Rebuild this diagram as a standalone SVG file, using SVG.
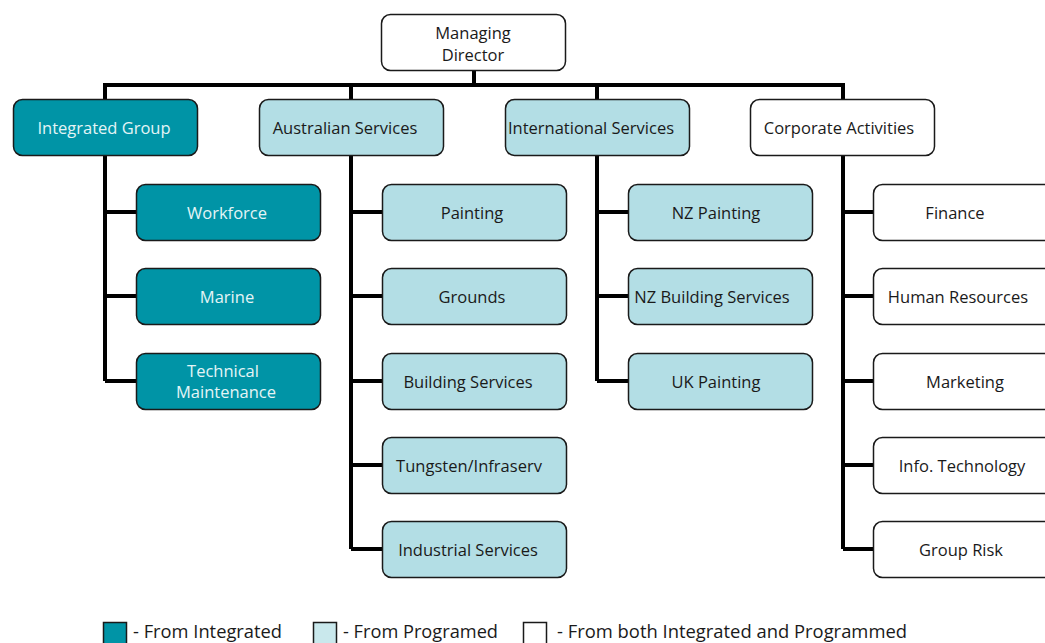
<svg xmlns="http://www.w3.org/2000/svg" width="1045" height="643" viewBox="0 0 1045 643">
  <style>
    .box { stroke: #1a1a1a; stroke-width: 1.5; }
    .teal { fill: #0094a6; }
    .light { fill: #b3dee5; }
    .white { fill: #ffffff; }
    text { font-family: "Open Sans", "Noto Sans", sans-serif; font-size: 16.5px; text-anchor: middle; }
    .dark { fill: #1a1a1a; }
    .pale { fill: #e4f4f6; }
    .wire { stroke: #000; stroke-width: 4; fill: none; }
    .legend { font-size: 18px; text-anchor: start; fill: #1a1a1a; }
  </style>
  <rect width="1045" height="643" fill="#ffffff"/>

  <!-- connectors -->
  <g id="connectors" class="wire">
    <path d="M474 71V85M103 85H845M105 83V99M351 85V99M597 85V99M843 83V99"/>
    <path d="M105 155V381M105 212H136M105 296H136M105 381H136"/>
    <path d="M351 155V549M351 212H382M351 296H382M351 381H382M351 465H382M351 549H382"/>
    <path d="M597 155V381M597 212H628M597 296H628M597 381H628"/>
    <path d="M843 155V549M843 212H873M843 296H873M843 381H873M843 465H873M843 549H873"/>
  </g>

  <!-- top -->
  <g id="managing-director">
    <rect class="box white" x="381.5" y="14.5" width="184" height="56" rx="9"/>
    <text class="dark" x="473" y="39">Managing</text>
    <text class="dark" x="473" y="61">Director</text>
  </g>

  <!-- divisions -->
  <g id="integrated-group">
    <rect class="box teal" x="13.5" y="99.5" width="184" height="56" rx="9"/>
    <text class="pale" x="104" y="134">Integrated Group</text>
  </g>
  <g id="australian-services">
    <rect class="box light" x="259.5" y="99.5" width="184" height="56" rx="9"/>
    <text class="dark" x="345" y="134">Australian Services</text>
  </g>
  <g id="international-services">
    <rect class="box light" x="505.5" y="99.5" width="184" height="56" rx="9"/>
    <text class="dark" x="591" y="134">International Services</text>
  </g>
  <g id="corporate-activities">
    <rect class="box white" x="750.5" y="99.5" width="184" height="56" rx="9"/>
    <text class="dark" x="839" y="134">Corporate Activities</text>
  </g>

  <!-- Integrated Group units -->
  <g id="workforce">
    <rect class="box teal" x="136.5" y="184.5" width="184" height="56" rx="9"/>
    <text class="pale" x="227" y="219">Workforce</text>
  </g>
  <g id="marine">
    <rect class="box teal" x="136.5" y="268.5" width="184" height="56" rx="9"/>
    <text class="pale" x="227" y="303">Marine</text>
  </g>
  <g id="technical-maintenance">
    <rect class="box teal" x="136.5" y="353.5" width="184" height="56" rx="9"/>
    <text class="pale" x="223" y="377">Technical</text>
    <text class="pale" x="226" y="398">Maintenance</text>
  </g>

  <!-- Australian Services units -->
  <g id="painting">
    <rect class="box light" x="382.5" y="184.5" width="184" height="56" rx="9"/>
    <text class="dark" x="472" y="219">Painting</text>
  </g>
  <g id="grounds">
    <rect class="box light" x="382.5" y="268.5" width="184" height="56" rx="9"/>
    <text class="dark" x="472" y="303">Grounds</text>
  </g>
  <g id="building-services">
    <rect class="box light" x="382.5" y="353.5" width="184" height="56" rx="9"/>
    <text class="dark" x="468" y="388">Building Services</text>
  </g>
  <g id="tungsten-infraserv">
    <rect class="box light" x="382.5" y="437.5" width="184" height="56" rx="9"/>
    <text class="dark" x="469" y="472">Tungsten/Infraserv</text>
  </g>
  <g id="industrial-services">
    <rect class="box light" x="382.5" y="521.5" width="184" height="56" rx="9"/>
    <text class="dark" x="468" y="556">Industrial Services</text>
  </g>

  <!-- International Services units -->
  <g id="nz-painting">
    <rect class="box light" x="628.5" y="184.5" width="184" height="56" rx="9"/>
    <text class="dark" x="716" y="219">NZ Painting</text>
  </g>
  <g id="nz-building-services">
    <rect class="box light" x="628.5" y="268.5" width="184" height="56" rx="9"/>
    <text class="dark" x="712" y="303">NZ Building Services</text>
  </g>
  <g id="uk-painting">
    <rect class="box light" x="628.5" y="353.5" width="184" height="56" rx="9"/>
    <text class="dark" x="716" y="388">UK Painting</text>
  </g>

  <!-- Corporate Activities units -->
  <g id="finance">
    <rect class="box white" x="873.5" y="184.5" width="184" height="56" rx="9"/>
    <text class="dark" x="955" y="219">Finance</text>
  </g>
  <g id="human-resources">
    <rect class="box white" x="873.5" y="268.5" width="184" height="56" rx="9"/>
    <text class="dark" x="958" y="303">Human Resources</text>
  </g>
  <g id="marketing">
    <rect class="box white" x="873.5" y="353.5" width="184" height="56" rx="9"/>
    <text class="dark" x="965" y="388">Marketing</text>
  </g>
  <g id="info-technology">
    <rect class="box white" x="873.5" y="437.5" width="184" height="56" rx="9"/>
    <text class="dark" x="962" y="472">Info. Technology</text>
  </g>
  <g id="group-risk">
    <rect class="box white" x="873.5" y="521.5" width="184" height="56" rx="9"/>
    <text class="dark" x="961" y="556">Group Risk</text>
  </g>

  <!-- key -->
  <g id="legend">
    <rect class="box teal" x="103.5" y="622.5" width="23" height="30"/>
    <text class="legend" x="133" y="637.5" textLength="149" lengthAdjust="spacingAndGlyphs">- From Integrated</text>
    <rect class="box" fill="#c9e8ec" x="313.5" y="622.5" width="23" height="30"/>
    <text class="legend" x="343" y="637.5" textLength="155" lengthAdjust="spacingAndGlyphs">- From Programed</text>
    <rect class="box white" x="523.5" y="622.5" width="23" height="30"/>
    <text class="legend" x="557" y="637.5" textLength="350" lengthAdjust="spacingAndGlyphs">- From both Integrated and Programmed</text>
  </g>
</svg>
